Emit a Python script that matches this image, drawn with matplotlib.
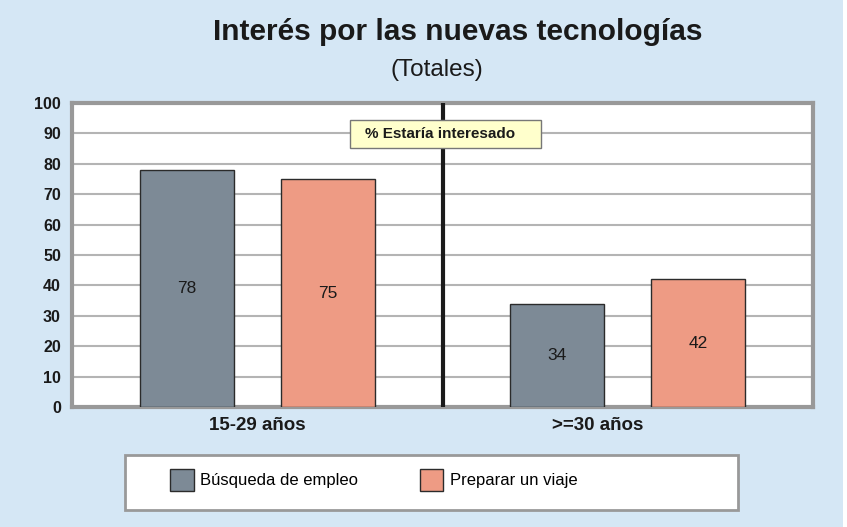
import matplotlib.pyplot as plt
from matplotlib.patches import Rectangle, Patch

# data
categories = ["15-29 años", ">=30 años"]
series_names = ["Búsqueda de empleo", "Preparar un viaje"]
busqueda = [78, 34]
viaje = [75, 42]
y_ticks = [0, 10, 20, 30, 40, 50, 60, 70, 80, 90, 100]

bg = "#D5E7F5"
gray_bar = "#7D8A96"
salmon_bar = "#EE9B84"

plt.rcParams['font.family'] = ['Liberation Sans', 'DejaVu Sans']

fig = plt.figure(figsize=(8.47, 5.27), dpi=100, facecolor=bg)
# thin white strip on the right edge
fig.patches.append(Rectangle((843 / 847, 0), 4 / 847, 1, transform=fig.transFigure,
                             facecolor="white", edgecolor="none", zorder=0))

ax = fig.add_axes([72 / 847, 120 / 527, 741 / 847, 304 / 527])
ax.set_facecolor("white")

centers = [0.5, 1.5]
off = 0.19
w = 0.254
for i, c in enumerate(centers):
    for x, val, col in [(c - off, busqueda[i], gray_bar), (c + off, viaje[i], salmon_bar)]:
        ax.bar(x, val, width=w, color=col, edgecolor="#2b2b2b", linewidth=1.0, zorder=3)
        ax.text(x, val / 2, str(val), ha="center", va="center", fontsize=12.5, color="#1a1a1a", zorder=4)

ax.set_xlim(0, 2)
ax.set_ylim(0, 100)
ax.set_yticks(y_ticks)
ax.set_yticklabels([str(t) for t in y_ticks], fontsize=11.5, fontweight="bold", color="#1a1a1a")
ax.yaxis.grid(True, color="#B4B4B4", linewidth=1.5, zorder=1)
ax.set_axisbelow(True)
ax.tick_params(axis="y", length=0, pad=8)
ax.tick_params(axis="x", length=0, pad=7)
ax.set_xticks([0.5, 1.42])
ax.set_xticklabels(categories, fontsize=13.5, fontweight="bold", color="#1a1a1a")
for s in ax.spines.values():
    s.set_color("#999999")
    s.set_linewidth(3)

# divider between age groups
ax.axvline(1.0, color="#1a1a1a", linewidth=3, zorder=5)

# note box
ax.add_patch(Rectangle((0.750, 85.2), 0.516, 9.2, facecolor="#FFFFCC", edgecolor="#777777",
                       linewidth=1, zorder=6))
ax.text(0.993, 89.8, "% Estaría interesado", ha="center", va="center", fontsize=11,
        fontweight="bold", color="#1a1a1a", zorder=7)

fig.text(458 / 847, 1 - 32 / 527, "Interés por las nuevas tecnologías", ha="center", va="center",
         fontsize=21.5, fontweight="bold", color="#1a1a1a")
fig.text(437 / 847, 1 - 70 / 527, "(Totales)", ha="center", va="center",
         fontsize=17.5, color="#1a1a1a")

# legend box
fig.patches.append(Rectangle((125 / 847, 17 / 527), 613 / 847, 55 / 527, transform=fig.transFigure,
                             facecolor="white", edgecolor="#999999", linewidth=2, zorder=1))
handles = [Patch(facecolor=gray_bar, edgecolor="#2b2b2b", label=series_names[0]),
           Patch(facecolor=salmon_bar, edgecolor="#2b2b2b", label=series_names[1])]
leg = fig.legend(handles=handles, loc="center", bbox_to_anchor=(374 / 847, 1 - 480 / 527), ncol=2,
                 frameon=False, fontsize=12, handlelength=1.4, handleheight=1.6, columnspacing=3.7,
                 handletextpad=0.4)

fig.savefig("out.png", dpi=100, facecolor=bg)
